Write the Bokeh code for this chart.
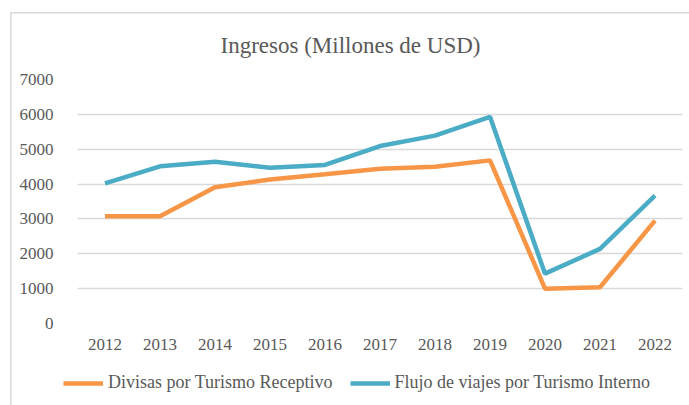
from bokeh.plotting import figure
from bokeh.layouts import column
from bokeh.models import Range1d, FactorRange, Legend, LegendItem, FixedTicker
from bokeh.embed import file_html
from bokeh.resources import INLINE

years = ["2012", "2013", "2014", "2015", "2016", "2017", "2018", "2019", "2020", "2021", "2022"]
divisas = [3080, 3080, 3910, 4130, 4280, 4440, 4500, 4680, 1000, 1040, 2950]
flujo = [4020, 4510, 4640, 4470, 4550, 5090, 5390, 5930, 1430, 2140, 3670]
y_ticks = [0, 1000, 2000, 3000, 4000, 5000, 6000, 7000]
series_names = ["Divisas por Turismo Receptivo", "Flujo de viajes por Turismo Interno"]

FONT = "Liberation Serif"
GREY = "#595959"
ORANGE = "#F79646"
BLUE = "#4BACC6"
LIGHT = "#D9D9D9"

# main chart
p = figure(width=689, height=360, x_range=FactorRange(*years), y_range=Range1d(0, 7000),
           output_backend="svg", toolbar_location=None,
           min_border_left=77, min_border_right=7, min_border_top=79, min_border_bottom=37)
p.styles = {
    "background-color": "white",
    "background-image": "linear-gradient(#D9D9D9, #D9D9D9), linear-gradient(#D9D9D9, #D9D9D9)",
    "background-size": "679px 1.5px, 1.5px 348px",
    "background-position": "10px 12px, 10px 12px",
    "background-repeat": "no-repeat",
}
p.outline_line_color = None
p.background_fill_color = "white"
p.border_fill_color = None

p.title.text = "Ingresos (Millones de USD)"
p.title.align = "left"
p.title.text_font = FONT
p.title.text_font_size = "23px"
p.title.text_font_style = "normal"
p.title.text_color = GREY
p.title.offset = 143
p.title.standoff = 44

p.line(years, divisas, line_color=ORANGE, line_width=4.5)
p.line(years, flujo, line_color=BLUE, line_width=4.5)

p.xgrid.grid_line_color = None
p.ygrid.grid_line_color = LIGHT
p.ygrid.grid_line_width = 1.5
p.yaxis.ticker = FixedTicker(ticks=y_ticks)
for ax in (p.xaxis, p.yaxis):
    ax.axis_line_color = None
    ax.major_tick_line_color = None
    ax.minor_tick_line_color = None
    ax.major_label_text_font = FONT
    ax.major_label_text_font_size = "17px"
    ax.major_label_text_color = GREY
p.yaxis.major_label_standoff = 18
p.xaxis.major_label_standoff = 9
p.x_range.range_padding = 0
p.x_range.group_padding = 0

# legend strip (its frame is aligned with the chart's frame; shifted visually)
q = figure(width=689, height=45, x_range=Range1d(0, 1), y_range=Range1d(0, 1),
           output_backend="svg", toolbar_location=None,
           x_axis_location=None, y_axis_location=None,
           min_border_left=0, min_border_right=0, min_border_top=0, min_border_bottom=0)
q.styles = {
    "background-color": "white",
    "background-image": "linear-gradient(#D9D9D9, #D9D9D9)",
    "background-size": "1.5px 45px",
    "background-position": "24px 0px",
    "background-repeat": "no-repeat",
    "transform": "translateX(-14px)",
}
q.outline_line_color = None
q.background_fill_color = None
q.border_fill_color = None
q.grid.visible = False
idx = list(range(len(years)))
k1 = q.line(x=idx, y=divisas, line_color=ORANGE, line_width=4.5)
k2 = q.line(x=idx, y=flujo, line_color=BLUE, line_width=4.5)

legend = Legend(items=[LegendItem(label=series_names[0], renderers=[k1]),
                       LegendItem(label=series_names[1], renderers=[k2])],
                orientation="horizontal", location=(0, 12),
                label_text_font=FONT, label_text_font_size="18px", label_text_color=GREY,
                border_line_color=None, background_fill_alpha=0,
                glyph_width=40, spacing=17, label_standoff=5, padding=0, margin=0)
q.add_layout(legend, "center")

layout = column(p, q, spacing=0)
open("out.html", "w").write(file_html(layout, INLINE))
